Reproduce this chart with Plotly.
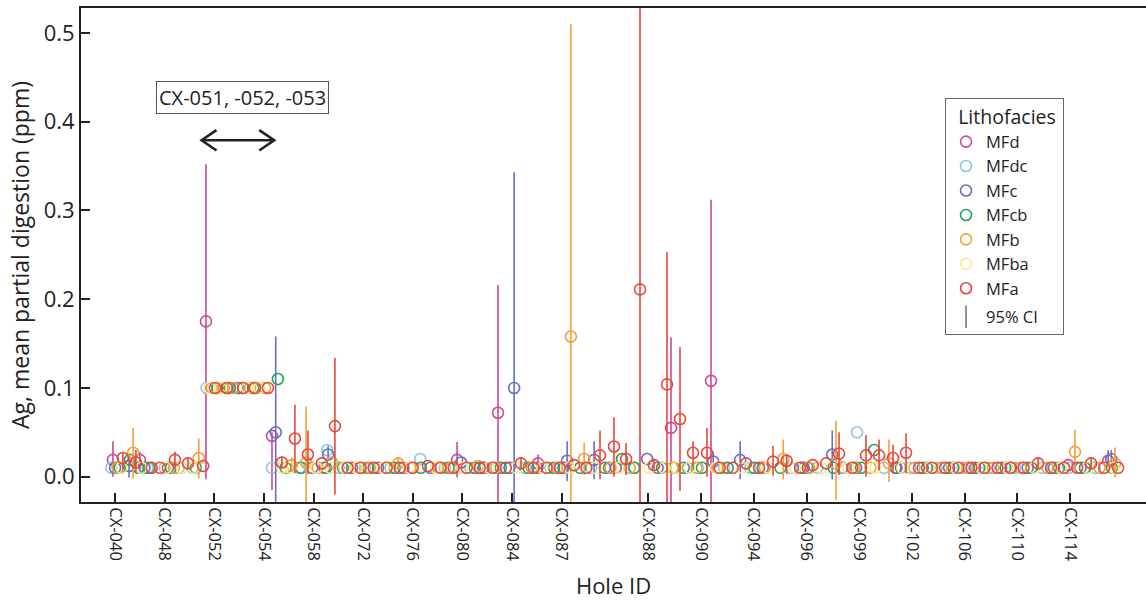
import plotly.graph_objects as go

# ---------------- x axis: sample position, labelled by hole ID ----------------
hole_tick_pos = [11, 27, 43, 59, 75, 91, 107, 123, 139, 155,
                 183, 200, 217, 234, 251, 268, 285, 302, 319]
hole_tick_labels = ["CX-040", "CX-048", "CX-052", "CX-054", "CX-058", "CX-072",
                    "CX-076", "CX-080", "CX-084", "CX-087", "CX-088", "CX-090",
                    "CX-094", "CX-096", "CX-099", "CX-102", "CX-106", "CX-110",
                    "CX-114"]
y_ticks = [0.0, 0.1, 0.2, 0.3, 0.4, 0.5]

facies_names = ["MFd", "MFdc", "MFc", "MFcb", "MFb", "MFba", "MFa"]

# ---------------- MFd ----------------
mfd_ci_x = [10.3, 19.0, 40.3, 61.6, 121.3, 134.5, 147.4, 190.3, 203.2, 331.3]
mfd_ci_y = [0.019, 0.019, 0.175, 0.046, 0.019, 0.072, 0.015, 0.055, 0.108, 0.018]
mfd_ci_lo = [0.000, 0.008, -0.003, -0.015, -0.001, -0.080, 0.004, -0.080, -0.080, 0.008]
mfd_ci_hi = [0.040, 0.028, 0.352, 0.050, 0.039, 0.216, 0.025, 0.157, 0.312, 0.030]
mfd_x = [78.5, 130, 172.5, 232.5, 245.5, 263, 286.3, 300, 318.4]
mfd_y = [0.010, 0.010, 0.010, 0.010, 0.010, 0.010, 0.010, 0.010, 0.013]

# ---------------- MFdc ----------------
mfdc_ci_x, mfdc_ci_y, mfdc_ci_lo, mfdc_ci_hi = [], [], [], []
mfdc_x = [9.8, 21.5, 27, 31.5, 36, 40.5, 51, 61.6, 70.4, 79.4,
          83.1, 91.6, 99.8, 109.4, 117.4, 125.6, 134, 143.2, 151.4, 164.6,
          178.2, 199, 207.4, 215.9, 229, 237.5, 246, 250.3, 259, 267.5,
          276, 284.4, 292.8, 301.2, 310, 318.5, 327]
mfdc_y = [0.010, 0.010, 0.010, 0.010, 0.010, 0.100, 0.100, 0.010, 0.010, 0.030,
          0.010, 0.010, 0.010, 0.020, 0.010, 0.010, 0.010, 0.010, 0.010, 0.010,
          0.010, 0.010, 0.010, 0.010, 0.010, 0.010, 0.010, 0.050, 0.010, 0.010,
          0.010, 0.010, 0.010, 0.010, 0.010, 0.010, 0.010]

# ---------------- MFc ----------------
mfc_ci_x = [15.5, 62.8, 79.7, 139.7, 156.8, 165.5, 203.9, 212.6, 242.3, 332.3]
mfc_ci_y = [0.012, 0.050, 0.025, 0.100, 0.018, 0.019, 0.017, 0.019, 0.025, 0.020]
mfc_ci_lo = [-0.001, -0.080, 0.018, -0.080, -0.005, -0.003, 0.008, -0.003, -0.003, 0.010]
mfc_ci_hi = [0.023, 0.158, 0.035, 0.343, 0.040, 0.040, 0.028, 0.040, 0.052, 0.030]
mfc_x = [11, 20.5, 28, 50.5, 74.6, 87.4, 95.8, 104, 112.7, 122.6,
         129.8, 138.2, 147.2, 155.6, 169, 182.6, 186, 194.4, 219.9, 233.1,
         250, 262.7, 271.5, 280, 288.4, 296.8, 305.3, 313.8, 322.4]
mfc_y = [0.010, 0.010, 0.010, 0.100, 0.010, 0.010, 0.010, 0.010, 0.010, 0.016,
         0.010, 0.010, 0.010, 0.010, 0.010, 0.020, 0.010, 0.010, 0.010, 0.010,
         0.010, 0.010, 0.010, 0.010, 0.010, 0.010, 0.010, 0.010, 0.010]

# ---------------- MFcb ----------------
mfcb_ci_x, mfcb_ci_y, mfcb_ci_lo, mfcb_ci_hi = [], [], [], []
mfcb_x = [12.5, 15.8, 18.5, 22, 29, 37, 44, 48, 55.5, 63.5,
          66, 71, 79, 84.5, 92.6, 101.2, 109.6, 118.6, 127, 135.4,
          144.3, 152.6, 161, 170.3, 174.5, 178.5, 187.4, 191.6, 195.8, 200.3,
          208.6, 217.1, 225.6, 234.4, 242.7, 251.6, 255.8, 264.5, 272.9, 281.4,
          289.8, 298.2, 306.6, 315.5, 323.8, 332.5]
mfcb_y = [0.010, 0.019, 0.010, 0.010, 0.010, 0.010, 0.100, 0.100, 0.100, 0.110,
          0.010, 0.010, 0.010, 0.010, 0.010, 0.010, 0.010, 0.010, 0.010, 0.010,
          0.010, 0.010, 0.010, 0.010, 0.020, 0.010, 0.010, 0.010, 0.010, 0.010,
          0.010, 0.010, 0.010, 0.010, 0.010, 0.010, 0.030, 0.010, 0.010, 0.010,
          0.010, 0.010, 0.010, 0.010, 0.010, 0.010]

# ---------------- MFb ----------------
mfb_ci_x = [16.8, 38.0, 68.0, 72.6, 102.3, 158.0, 162.3, 226.5, 243.5, 260.6, 320.6, 333.5]
mfb_ci_y = [0.027, 0.021, 0.013, 0.016, 0.015, 0.158, 0.020, 0.020, 0.015, 0.015, 0.028, 0.015]
mfb_ci_lo = [-0.002, -0.002, 0.005, -0.050, 0.008, -0.080, 0.002, -0.003, -0.026, -0.006, 0.004, -0.001]
mfb_ci_hi = [0.055, 0.043, 0.022, 0.079, 0.022, 0.510, 0.038, 0.042, 0.063, 0.042, 0.053, 0.033]
mfb_x = [11.8, 30, 42.2, 46, 49, 54.5, 59.3, 76.3, 81, 88.7,
         93.2, 106.3, 115.2, 119.4, 128, 133.5, 145.4, 153.5, 170.8, 177,
         190.8, 198.5, 205.4, 220.5, 234.8, 249.5, 254.6, 268.8, 277.5, 285.7,
         294.2, 303, 311.7, 328.5]
mfb_y = [0.010, 0.010, 0.100, 0.100, 0.100, 0.100, 0.100, 0.010, 0.016, 0.010,
         0.010, 0.010, 0.010, 0.010, 0.012, 0.010, 0.010, 0.010, 0.010, 0.010,
         0.010, 0.010, 0.010, 0.010, 0.010, 0.010, 0.010, 0.010, 0.010, 0.010,
         0.010, 0.010, 0.010, 0.010]

# ---------------- MFba ----------------
mfba_ci_x, mfba_ci_y, mfba_ci_lo, mfba_ci_hi = [], [], [], []
mfba_x = [13, 19.5, 27.5, 32.5, 36.5, 41.5, 45, 53.5, 57.5, 65,
          67.5, 75.8, 80.4, 85, 89, 97.6, 105.8, 114.5, 123, 131.6,
          140.5, 148.8, 157.5, 165.9, 173.3, 183.3, 188, 192, 196.2, 204.8,
          213.3, 221.7, 230.3, 238.8, 247.5, 256.2, 264.9, 273.5, 282, 290.3,
          298.7, 307.5, 316, 324.6, 333]
mfba_y = [0.010, 0.010, 0.010, 0.010, 0.010, 0.100, 0.100, 0.100, 0.100, 0.010,
          0.010, 0.010, 0.010, 0.010, 0.010, 0.010, 0.010, 0.010, 0.010, 0.010,
          0.010, 0.010, 0.010, 0.010, 0.010, 0.010, 0.010, 0.010, 0.010, 0.010,
          0.010, 0.010, 0.010, 0.010, 0.010, 0.010, 0.010, 0.010, 0.010, 0.010,
          0.010, 0.010, 0.010, 0.010, 0.010]

# ---------------- MFa ----------------
mfa_ci_x = [13.5, 17.7, 30.3, 34.5, 64.8, 69.0, 73.2, 81.9, 141.9, 167.4,
            171.9, 175.8, 180.3, 184.8, 189.0, 193.2, 197.4, 201.9, 223.2, 227.6,
            244.5, 253.2, 257.4, 261.9, 266.1, 308.7, 325.8]
mfa_ci_y = [0.021, 0.016, 0.019, 0.015, 0.016, 0.043, 0.025, 0.057, 0.015, 0.024,
            0.034, 0.020, 0.211, 0.013, 0.104, 0.065, 0.027, 0.027, 0.017, 0.018,
            0.026, 0.024, 0.024, 0.021, 0.027, 0.015, 0.015]
mfa_ci_lo = [0.008, 0.005, 0.008, 0.009, 0.010, 0.004, 0.003, -0.020, 0.008, -0.003,
             0.000, 0.002, -0.080, 0.008, -0.080, -0.016, 0.012, 0.000, 0.001, 0.003,
             0.002, 0.000, 0.007, 0.005, 0.004, 0.009, 0.009]
mfa_ci_hi = [0.028, 0.030, 0.028, 0.021, 0.023, 0.081, 0.052, 0.134, 0.022, 0.052,
             0.067, 0.038, 0.620, 0.020, 0.253, 0.146, 0.040, 0.055, 0.035, 0.025,
             0.050, 0.047, 0.042, 0.036, 0.049, 0.021, 0.022]
mfa_x = [22.8, 25.5, 39.4, 43.2, 47.1, 52.3, 56.1, 60.3, 77.7, 86,
         90.2, 94.4, 98.6, 102.8, 107, 111.9, 116, 120.2, 124.4, 128.6,
         132.8, 137, 146, 150.2, 154.4, 159, 163, 206, 210.2, 214.5,
         218.7, 231.9, 236, 240.3, 248.8, 270.3, 274.5, 278.7, 283, 287.2,
         291.4, 295.6, 299.8, 304, 312.9, 317.1, 321.3, 330, 334.5]
mfa_y = [0.010, 0.010, 0.012, 0.100, 0.100, 0.100, 0.100, 0.100, 0.015, 0.010,
         0.010, 0.010, 0.010, 0.010, 0.010, 0.012, 0.010, 0.010, 0.010, 0.010,
         0.010, 0.010, 0.010, 0.010, 0.010, 0.013, 0.010, 0.010, 0.010, 0.015,
         0.010, 0.010, 0.013, 0.015, 0.010, 0.010, 0.010, 0.010, 0.010, 0.010,
         0.010, 0.010, 0.010, 0.010, 0.010, 0.010, 0.010, 0.010, 0.010]

# annotation: holes CX-051..053 span (sample positions) and label
span_label = "CX-051, -052, -053"
span_start, span_end, span_level = 38.9, 62.3, 0.379
label_x, label_y = 52.1, 0.427

# ---------------- styling ----------------
colors = {"MFd": "#c9489b", "MFdc": "#8ec7e0", "MFc": "#6670c2", "MFcb": "#22a35a",
          "MFb": "#f59f36", "MFba": "#f7ea8a", "MFa": "#e8473b"}
series = {
    "MFd": (mfd_ci_x, mfd_ci_y, mfd_ci_lo, mfd_ci_hi, mfd_x, mfd_y),
    "MFdc": (mfdc_ci_x, mfdc_ci_y, mfdc_ci_lo, mfdc_ci_hi, mfdc_x, mfdc_y),
    "MFc": (mfc_ci_x, mfc_ci_y, mfc_ci_lo, mfc_ci_hi, mfc_x, mfc_y),
    "MFcb": (mfcb_ci_x, mfcb_ci_y, mfcb_ci_lo, mfcb_ci_hi, mfcb_x, mfcb_y),
    "MFb": (mfb_ci_x, mfb_ci_y, mfb_ci_lo, mfb_ci_hi, mfb_x, mfb_y),
    "MFba": (mfba_ci_x, mfba_ci_y, mfba_ci_lo, mfba_ci_hi, mfba_x, mfba_y),
    "MFa": (mfa_ci_x, mfa_ci_y, mfa_ci_lo, mfa_ci_hi, mfa_x, mfa_y),
}

FONT = "Open Sans"
fig = go.Figure()

for name in facies_names:
    cx, cy, clo, chi, bx, by = series[name]
    assert len(cx) == len(cy) == len(clo) == len(chi)
    assert len(bx) == len(by), name
    xs = list(bx) + list(cx)
    ys = list(by) + list(cy)
    plus = [0.0] * len(bx) + [h - v for v, h in zip(cy, chi)]
    minus = [0.0] * len(bx) + [v - l for v, l in zip(cy, clo)]
    fig.add_trace(go.Scatter(
        x=xs, y=ys, mode="markers", name=name, legendgroup="litho",
        marker=dict(symbol="circle-open", size=11, color=colors[name],
                    line=dict(width=1.6, color=colors[name])),
        error_y=dict(type="data", symmetric=False, array=plus, arrayminus=minus,
                     color=colors[name], thickness=1.6, width=0, visible=True),
        cliponaxis=True,
    ))

fig.add_trace(go.Scatter(
    x=[None], y=[None], mode="markers", name="95% CI", legendgroup="ci",
    marker=dict(symbol="line-ns-open", size=20, color="#777",
                line=dict(width=1.6, color="#777")),
))

# double-headed arrow (line + open chevrons), data coordinates
head_dx, head_dy = 4.8, 0.0115
arrow_shapes = [
    dict(type="line", x0=span_start, x1=span_end, y0=span_level, y1=span_level),
    dict(type="path", path=f"M {span_start + head_dx},{span_level + head_dy} L {span_start},{span_level} L {span_start + head_dx},{span_level - head_dy}"),
    dict(type="path", path=f"M {span_end - head_dx},{span_level + head_dy} L {span_end},{span_level} L {span_end - head_dx},{span_level - head_dy}"),
]
for s in arrow_shapes:
    s.update(xref="x", yref="y", line=dict(color="#222", width=2.6))
    fig.add_shape(**s)

fig.add_annotation(x=label_x, y=label_y, xref="x", yref="y", text=span_label,
                   showarrow=False, font=dict(family=FONT, size=20, color="#222"),
                   bordercolor="#555", borderwidth=1, borderpad=2, bgcolor="white")

fig.update_layout(
    width=1146, height=601,
    margin=dict(l=81, r=0, t=8, b=99, autoexpand=False),
    plot_bgcolor="white", paper_bgcolor="white",
    font=dict(family=FONT, color="#222"),
    showlegend=True,
    legend=dict(x=0.8113, y=0.8178, xanchor="left", yanchor="top",
                bordercolor="#666", borderwidth=1, bgcolor="white",
                font=dict(family=FONT, size=16.5, color="#222"),
                title=dict(text="&nbsp;&nbsp;Lithofacies&nbsp;",
                           font=dict(family=FONT, size=19.5)),
                traceorder="grouped", tracegroupgap=4, itemwidth=30),
    xaxis=dict(range=[0, 343.5], tickmode="array", tickvals=hole_tick_pos,
               ticktext=hole_tick_labels, tickangle=90, ticks="inside", ticklen=9,
               tickwidth=2, tickcolor="#222", showline=True, linewidth=2,
               linecolor="#222", mirror=True, showgrid=False, zeroline=False,
               automargin=False,
               tickfont=dict(family=FONT, size=16.5, color="#222"),
               title=dict(text="Hole ID", font=dict(family=FONT, size=22), standoff=18)),
    yaxis=dict(range=[-0.0285, 0.528], tickmode="array", tickvals=y_ticks,
               ticktext=[f"{v:.1f}" for v in y_ticks], ticks="inside", ticklen=9,
               tickwidth=2, tickcolor="#222", showline=True, linewidth=2,
               linecolor="#222", mirror=False, showgrid=False, zeroline=False,
               automargin=False,
               tickfont=dict(family=FONT, size=22, color="#222"),
               title=dict(text="Ag, mean partial digestion (ppm)",
                          font=dict(family=FONT, size=23), standoff=8)),
)

fig.write_html("out.html", config={"displayModeBar": False},
               post_script="document.body.style.margin='0px';document.body.style.overflow='hidden';")
